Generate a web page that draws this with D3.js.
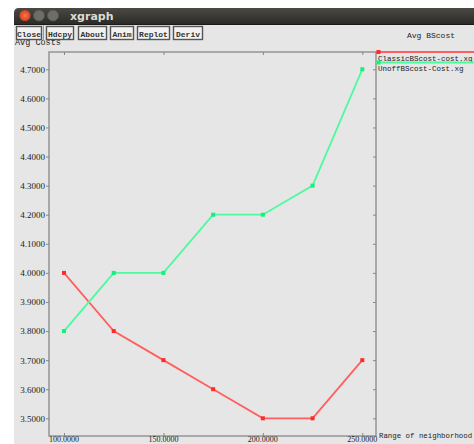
<!DOCTYPE html>
<html>
<head>
<meta charset="utf-8">
<script src="https://cdn.jsdelivr.net/npm/d3@7"></script>
<style>
  html, body { margin: 0; padding: 0; background: #ffffff; }
  svg { display: block; }
</style>
</head>
<body>
<script>
// Neighbourhood range (x) and average cost for each run file
const ranges = [100, 125, 150, 175, 200, 225, 250];
const classicCost = [4.0, 3.8, 3.7, 3.6, 3.5, 3.5, 3.7];
const unoffCost = [3.8, 4.0, 4.0, 4.2, 4.2, 4.3, 4.7];
const seriesNames = ["ClassicBScost-cost.xg", "UnoffBScost-Cost.xg"];
const xTickValues = [100, 150, 200, 250];
const yTickValues = [3.5, 3.6, 3.7, 3.8, 3.9, 4.0, 4.1, 4.2, 4.3, 4.4, 4.5, 4.6, 4.7];
const buttonLabels = ["Close", "Hdcpy", "About", "Anim", "Replot", "Deriv"];

const W = 474, H = 444;
const svg = d3.select("body").append("svg").attr("width", W).attr("height", H);

// window body
svg.append("rect").attr("x", 0).attr("y", 0).attr("width", W).attr("height", H).attr("fill", "#ffffff");
svg.append("rect").attr("x", 14).attr("y", 22).attr("width", W - 14).attr("height", H - 22).attr("fill", "#e6e6e6");

// title bar
const defs = svg.append("defs");
const tg = defs.append("linearGradient").attr("id", "tbar").attr("x1", 0).attr("y1", 0).attr("x2", 0).attr("y2", 1);
tg.append("stop").attr("offset", "0%").attr("stop-color", "#4a4944");
tg.append("stop").attr("offset", "100%").attr("stop-color", "#2c2b27");
svg.append("path")
  .attr("d", `M14,24 L14,13 Q14,8 19,8 L${W},8 L${W},24 Z`)
  .attr("fill", "url(#tbar)");
svg.append("line").attr("x1", 14).attr("x2", W).attr("y1", 24.5).attr("y2", 24.5).attr("stroke", "#1a1a18");
const rg = defs.append("radialGradient").attr("id", "closeBtn");
rg.append("stop").attr("offset", "0%").attr("stop-color", "#f47a50");
rg.append("stop").attr("offset", "100%").attr("stop-color", "#d8401a");
svg.append("circle").attr("cx", 25).attr("cy", 15.5).attr("r", 5.5).attr("fill", "url(#closeBtn)");
[39, 53].forEach(cx => {
  svg.append("circle").attr("cx", cx).attr("cy", 15.5).attr("r", 5.5).attr("fill", "#6e6d68").attr("stroke", "#555550");
});
svg.append("text").attr("x", 70).attr("y", 20).text("xgraph")
  .attr("font-family", "DejaVu Sans").attr("font-weight", "bold").attr("font-size", 11).attr("fill", "#dedbd3");

// y-axis caption, partly hidden under the button row
const capClip = defs.append("clipPath").attr("id", "capClip");
capClip.append("rect").attr("x", 0).attr("y", 40).attr("width", 120).attr("height", 10);
svg.append("text").attr("x", 15).attr("y", 45).text("Avg Costs")
  .attr("clip-path", "url(#capClip)")
  .attr("font-family", "Liberation Mono").attr("font-size", 8.5).attr("fill", "#222");

// button row
const btnX = [16, 46, 78, 110, 137, 173];
const btnW = [25, 27, 28, 23, 32, 29];
buttonLabels.forEach((b, i) => {
  svg.append("rect").attr("x", btnX[i] + 0.5).attr("y", 26.5).attr("width", btnW[i]).attr("height", 13)
    .attr("fill", "#f2f2f2").attr("stroke", "#555").attr("stroke-width", 1.4);
  svg.append("text").attr("x", btnX[i] + btnW[i] / 2 + 0.5).attr("y", 36.5).text(b)
    .attr("text-anchor", "middle").attr("font-family", "Liberation Mono").attr("font-size", 8)
    .attr("font-weight", "bold").attr("fill", "#333");
});
svg.append("line").attr("x1", 43.5).attr("x2", 43.5).attr("y1", 25).attr("y2", 41).attr("stroke", "#999");

// scales
const x = d3.scaleLinear().domain([100, 250]).range([64, 362.3]);
const y = d3.scaleLinear().domain([3.5, 4.7]).range([418.3, 69.3]);
const frame = { left: 49, top: 52, right: 376, bottom: 436 };

// plot frame
svg.append("rect").attr("x", frame.left).attr("y", frame.top)
  .attr("width", frame.right - frame.left).attr("height", frame.bottom - frame.top)
  .attr("fill", "none").attr("stroke", "#9a9a9a").attr("stroke-width", 1.6);

const fmt = d3.format(".4f");
const axisFont = g => g.selectAll("text").attr("font-family", "Liberation Serif").attr("font-size", 9).attr("fill", "#222");
const axisLines = g => { g.select(".domain").remove(); g.selectAll("line").attr("stroke", "#888"); };

// left axis with labels
svg.append("g").attr("transform", `translate(${frame.left},0)`)
  .call(d3.axisLeft(y).tickValues(yTickValues).tickSize(3).tickPadding(1).tickFormat(fmt))
  .call(axisLines).call(axisFont);
// right axis ticks inside the frame
svg.append("g").attr("transform", `translate(${frame.right},0)`)
  .call(d3.axisLeft(y).tickValues(yTickValues).tickSize(3).tickFormat(""))
  .call(axisLines);
// bottom axis: inside ticks and labels below
svg.append("g").attr("transform", `translate(0,${frame.bottom})`)
  .call(d3.axisTop(x).tickValues(xTickValues).tickSize(3).tickFormat(""))
  .call(axisLines);
svg.append("g").selectAll("text").data(xTickValues).join("text")
  .attr("x", d => x(d)).attr("y", 442).attr("text-anchor", "middle")
  .text(d => fmt(d))
  .attr("font-family", "Liberation Serif").attr("font-size", 8).attr("fill", "#222");
// top axis ticks inside
svg.append("g").attr("transform", `translate(0,${frame.top})`)
  .call(d3.axisBottom(x).tickValues(xTickValues).tickSize(3).tickFormat(""))
  .call(axisLines);

// series
const colors = ["#ff5f5f", "#4dfaa0"];
const markColors = ["#ff2a2a", "#12f07e"];
const series = [classicCost, unoffCost];
const line = d3.line().x((d, i) => x(ranges[i])).y(d => y(d));
series.forEach((vals, s) => {
  svg.append("path").datum(vals).attr("d", line)
    .attr("fill", "none").attr("stroke", colors[s]).attr("stroke-width", 1.8);
  svg.append("g").selectAll("rect").data(vals).join("rect")
    .attr("x", (d, i) => x(ranges[i]) - 2).attr("y", d => y(d) - 2)
    .attr("width", 4).attr("height", 4).attr("fill", markColors[s]);
});

// legend, right of the frame
const legY = [52, 62.5];
seriesNames.forEach((name, s) => {
  svg.append("line").attr("x1", frame.right).attr("x2", W).attr("y1", legY[s]).attr("y2", legY[s])
    .attr("stroke", colors[s]).attr("stroke-width", 2);
  svg.append("rect").attr("x", frame.right + 0.5).attr("y", legY[s] - 2).attr("width", 4).attr("height", 4)
    .attr("fill", markColors[s]);
  svg.append("text").attr("x", frame.right + 2).attr("y", legY[s] + 8.5).text(name)
    .attr("font-family", "Liberation Mono").attr("font-size", 7.5).attr("fill", "#222");
});

// plot title and x-axis caption
svg.append("text").attr("x", 407).attr("y", 38).text("Avg BScost")
  .attr("font-family", "Liberation Mono").attr("font-size", 8).attr("fill", "#222");
svg.append("text").attr("x", 379).attr("y", 438).text("Range of neighborhood")
  .attr("font-family", "Liberation Mono").attr("font-size", 7.4).attr("fill", "#222");
</script>
</body>
</html>
